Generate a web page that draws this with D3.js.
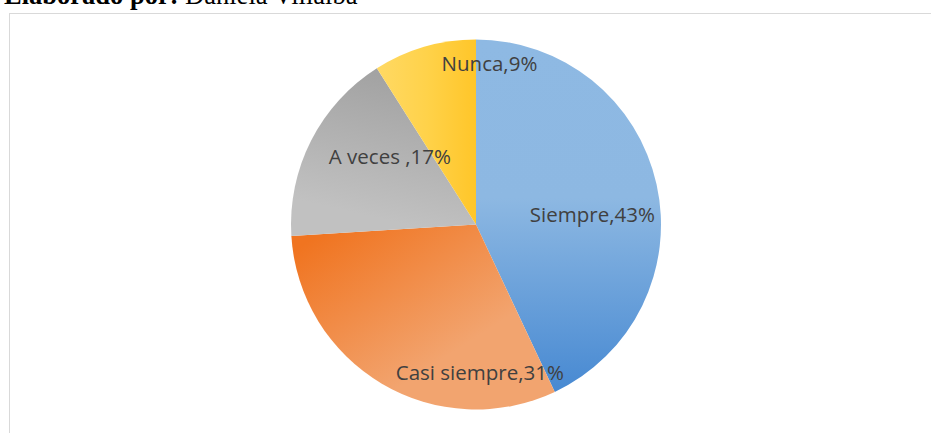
<!DOCTYPE html>
<html>
<head>
<meta charset="utf-8">
<script src="https://cdn.jsdelivr.net/npm/d3@7"></script>
<style>
  html, body { margin: 0; padding: 0; background: #fff; overflow: hidden; }
  svg { display: block; }
</style>
</head>
<body>
<div id="chart"></div>
<script>
// survey answers, percent
const categories = ['Siempre', 'Casi siempre', 'A veces ', 'Nunca'];
const values = [43, 31, 17, 9];

// label nudges relative to the centroid (Excel "best fit" placement)
const labelNudge = [[-1, 16], [65, 44], [21, -14], [47, -46]];

// gradient per slice: direction in bounding-box units + stops
const sliceFills = [
  { x1: 0, y1: 0, x2: 0, y2: 1, stops: [[0, '#8EB9E3'], [0.45, '#8DB8E2'], [1, '#4789D2']] },
  { x1: 0, y1: 0.15, x2: 0.55, y2: 0.75, stops: [[0, '#F07420'], [1, '#F2A46F']] },
  { x1: 0.3, y1: 0, x2: 0.1, y2: 0.8, stops: [[0, '#A3A3A3'], [1, '#C1C1C1']] },
  { x1: 0, y1: 0, x2: 1, y2: 0, stops: [[0, '#FFD964'], [0.5, '#FFD24A'], [1, '#FFC629']] }
];

const W = 931, H = 433;
const cx = 476, cy = 224.5, R = 185;

const svg = d3.select('#chart').append('svg')
  .attr('width', W)
  .attr('height', H)
  .attr('viewBox', [0, 0, W, H]);

// caption, cut off at the top of the crop like in the source
const caption = svg.append('text')
  .attr('x', 4)
  .attr('y', 4)
  .attr('font-family', '"Liberation Serif", "Times New Roman", serif')
  .attr('font-size', 26.5)
  .attr('fill', '#000');
caption.append('tspan').attr('font-weight', 'bold').text('Elaborado por:');
caption.append('tspan').text(' Daniela Villalba');

// chart area border
svg.append('rect')
  .attr('x', 9.5)
  .attr('y', 13.5)
  .attr('width', W)
  .attr('height', H)
  .attr('fill', '#fff')
  .attr('stroke', '#D9D9D9')
  .attr('stroke-width', 1);

const defs = svg.append('defs');
sliceFills.forEach((f, i) => {
  const g = defs.append('linearGradient')
    .attr('id', 'grad' + i)
    .attr('x1', f.x1).attr('y1', f.y1)
    .attr('x2', f.x2).attr('y2', f.y2);
  f.stops.forEach(s => {
    g.append('stop').attr('offset', s[0]).attr('stop-color', s[1]);
  });
});

const data = categories.map((c, i) => ({ name: c, value: values[i], idx: i }));

const pie = d3.pie().value(d => d.value).sort(null);
const arc = d3.arc().innerRadius(0).outerRadius(R);
const labelArc = d3.arc().innerRadius(R * 0.65).outerRadius(R * 0.65);

const arcs = pie(data);
const g = svg.append('g').attr('transform', `translate(${cx},${cy})`);

g.selectAll('path.slice')
  .data(arcs)
  .join('path')
  .attr('class', 'slice')
  .attr('d', arc)
  .attr('fill', d => `url(#grad${d.data.idx})`);

g.selectAll('text.lbl')
  .data(arcs)
  .join('text')
  .attr('class', 'lbl')
  .attr('transform', d => {
    const [x, y] = labelArc.centroid(d);
    const n = labelNudge[d.data.idx];
    return `translate(${x + n[0]},${y + n[1]})`;
  })
  .attr('text-anchor', 'middle')
  .attr('dominant-baseline', 'central')
  .attr('font-family', '"Open Sans", sans-serif')
  .attr('font-size', 20.5)
  .attr('fill', '#404040')
  .text(d => `${d.data.name},${d.data.value}%`);
</script>
</body>
</html>
